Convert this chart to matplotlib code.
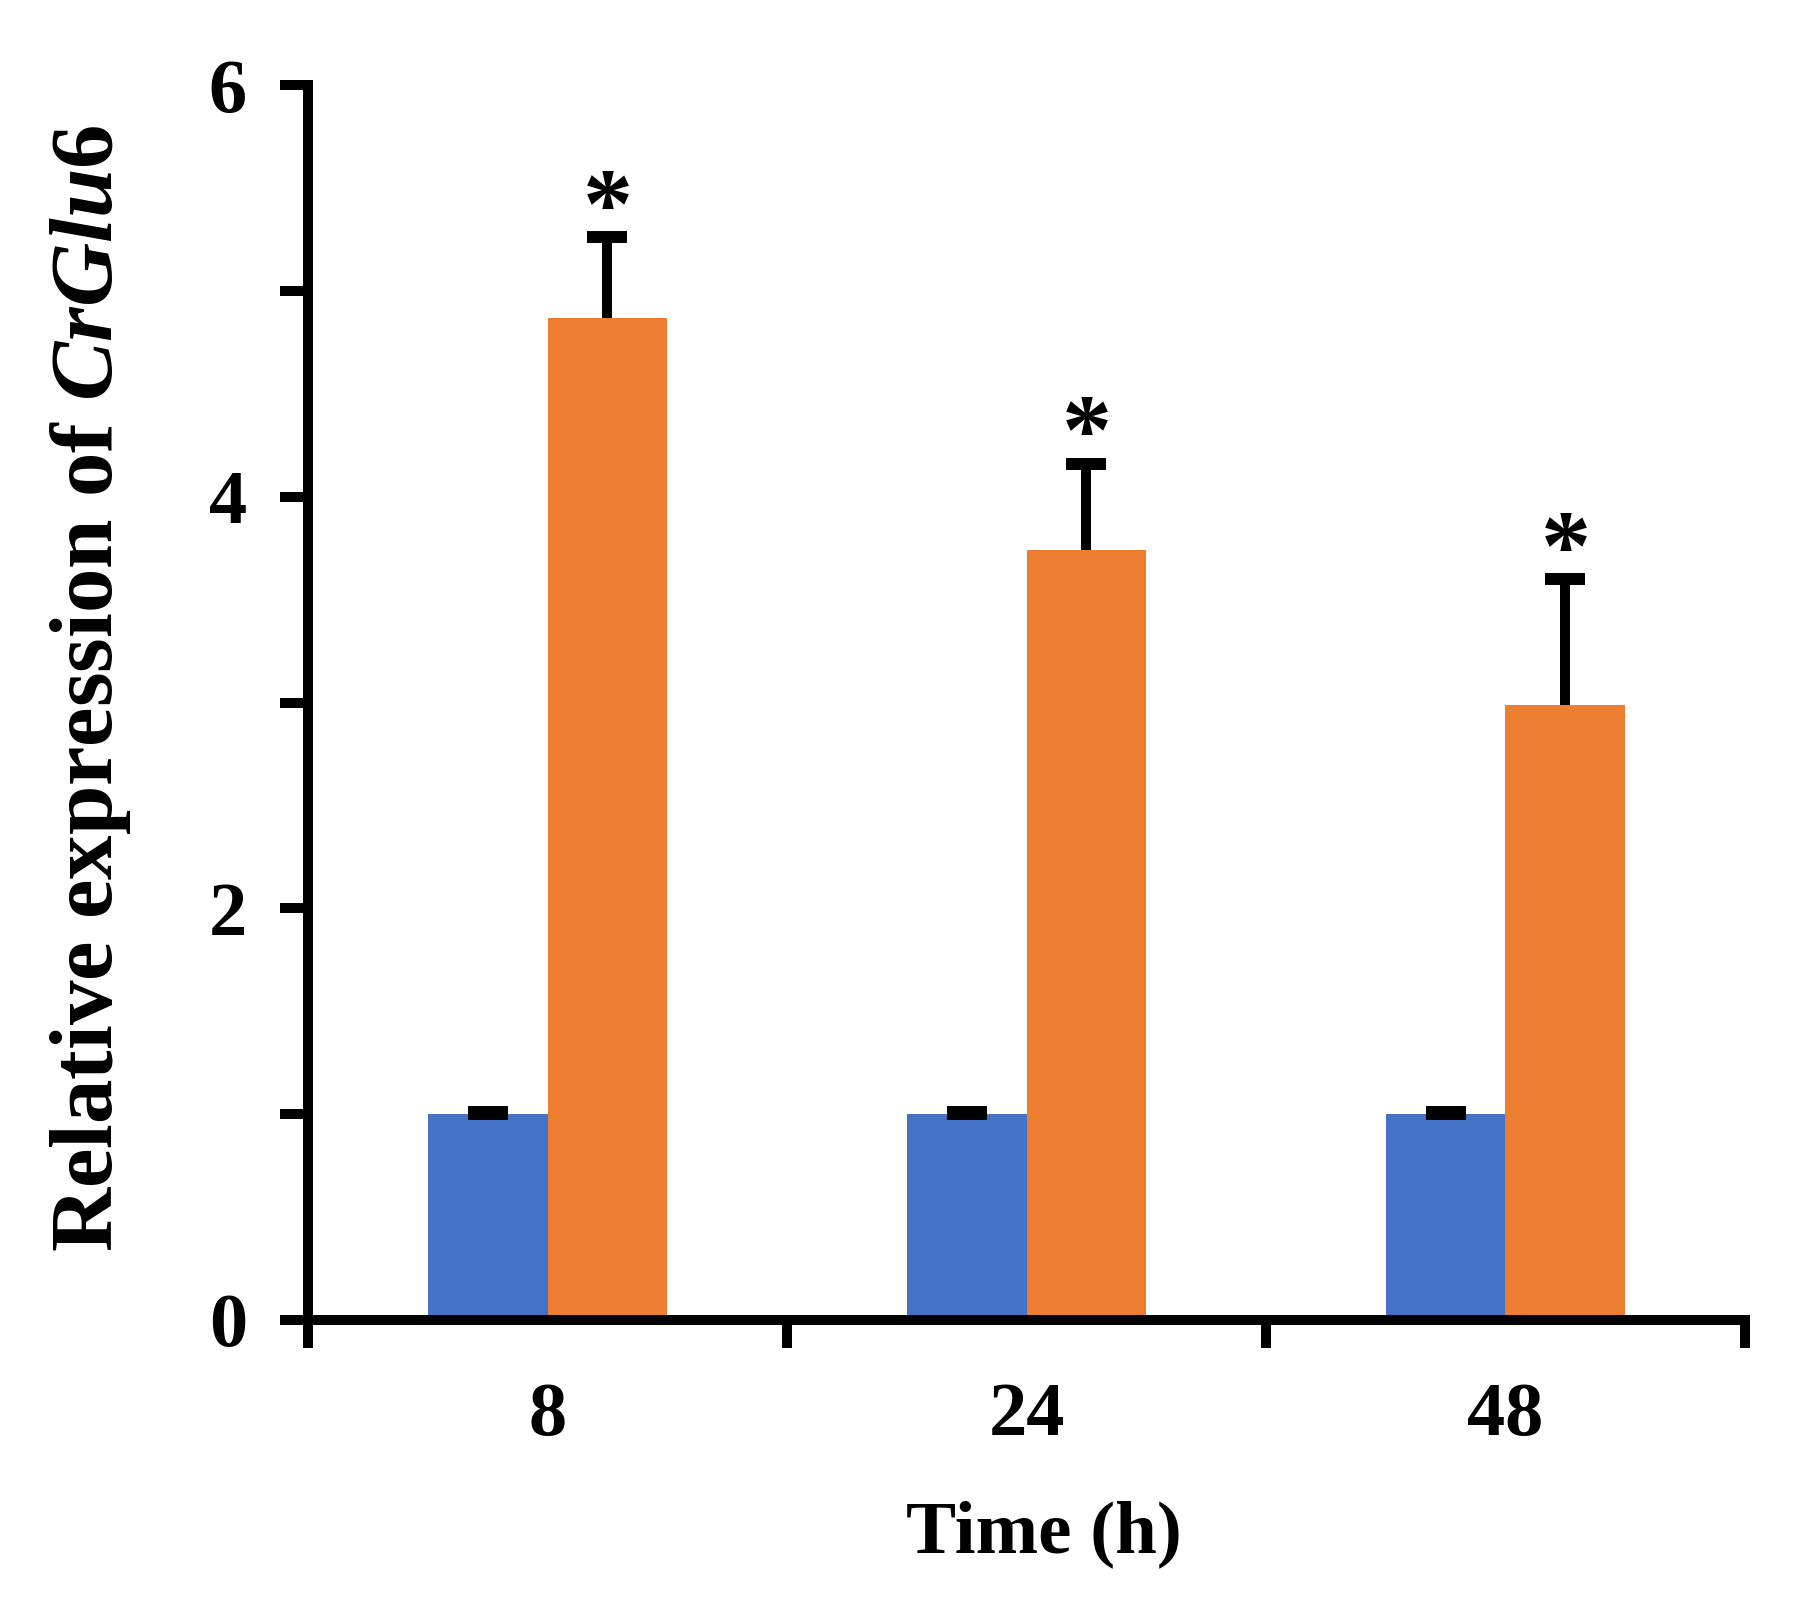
import numpy as np
import matplotlib
matplotlib.use("Agg")
import matplotlib.pyplot as plt
from matplotlib.ticker import FixedLocator, NullFormatter

plt.rcParams['font.family'] = ['Liberation Serif', 'DejaVu Serif']
plt.rcParams['font.weight'] = 'bold'
plt.rcParams['mathtext.fontset'] = 'custom'
plt.rcParams['mathtext.rm'] = 'Liberation Serif:bold'
plt.rcParams['mathtext.it'] = 'Liberation Serif:italic:bold'
plt.rcParams['mathtext.bf'] = 'Liberation Serif:bold'

# data
times = ['8', '24', '48']
control = [1.0, 1.0, 1.0]
control_err = [0.01, 0.01, 0.01]
treated = [4.87, 3.74, 2.99]
treated_err = [0.39, 0.42, 0.61]
signif = ['*', '*', '*']

blue = '#4472C4'
orange = '#ED7D31'
lw = 7.2

fig = plt.figure(figsize=(17.96, 15.99), dpi=100)
ax = fig.add_axes([0.1715, 0.1745, 0.8001, 0.7723])

x = np.arange(len(times))
w = 0.25
zeros = [0] * len(times)
ax.bar(x - w / 2, control, w, color=blue)
ax.bar(x + w / 2, treated, w, color=orange)

# upper-only error bars
ebc = ax.errorbar(x - w / 2, control, yerr=[zeros, control_err], fmt='none',
                  ecolor='black', elinewidth=lw, capsize=14.4, capthick=8.6)
ebt = ax.errorbar(x + w / 2, treated, yerr=[zeros, treated_err], fmt='none',
                  ecolor='black', elinewidth=lw, capsize=14.4, capthick=8.6)
ebt[1][0].set_visible(False)  # hide the cap sitting on the bar top

for xi, m, e, s in zip(x, treated, treated_err, signif):
    ax.annotate(s, (xi + w / 2, m + e), xytext=(0, 1), textcoords='offset points',
                ha='center', va='baseline', fontsize=72, fontweight='bold')

ax.set_xlim(-0.5, 2.5)
ax.set_ylim(0, 6)

ax.spines['top'].set_visible(False)
ax.spines['right'].set_visible(False)
ax.spines['left'].set_linewidth(lw)
ax.spines['bottom'].set_linewidth(lw)

# y ticks every 1, labels every 2
ax.yaxis.set_major_locator(FixedLocator([0, 2, 4, 6]))
ax.yaxis.set_minor_locator(FixedLocator([1, 3, 5]))
ax.tick_params(axis='y', which='both', direction='out', length=20, width=lw,
               labelsize=55, pad=24)

# x ticks at group boundaries, labels at group centres
ax.xaxis.set_major_locator(FixedLocator([-0.5, 0.5, 1.5, 2.5]))
ax.xaxis.set_major_formatter(NullFormatter())
ax.xaxis.set_minor_locator(FixedLocator(x))
ax.set_xticklabels(times, minor=True)
ax.tick_params(axis='x', which='major', direction='out', length=20, width=lw)
ax.tick_params(axis='x', which='minor', length=0, labelsize=55, pad=45)

ax.set_xlabel('Time (h)', fontsize=54, fontweight='bold')
ax.xaxis.label.set_verticalalignment('baseline')
ax.xaxis.set_label_coords(0.512, -0.188)

ax.set_ylabel(r'Relative expression of $\mathit{CrGlu6}$', fontsize=64, fontweight='bold')
ax.yaxis.label.set_verticalalignment('baseline')
ax.yaxis.set_label_coords(-0.1364, 0.5117)

fig.savefig('out.png', dpi=100)
